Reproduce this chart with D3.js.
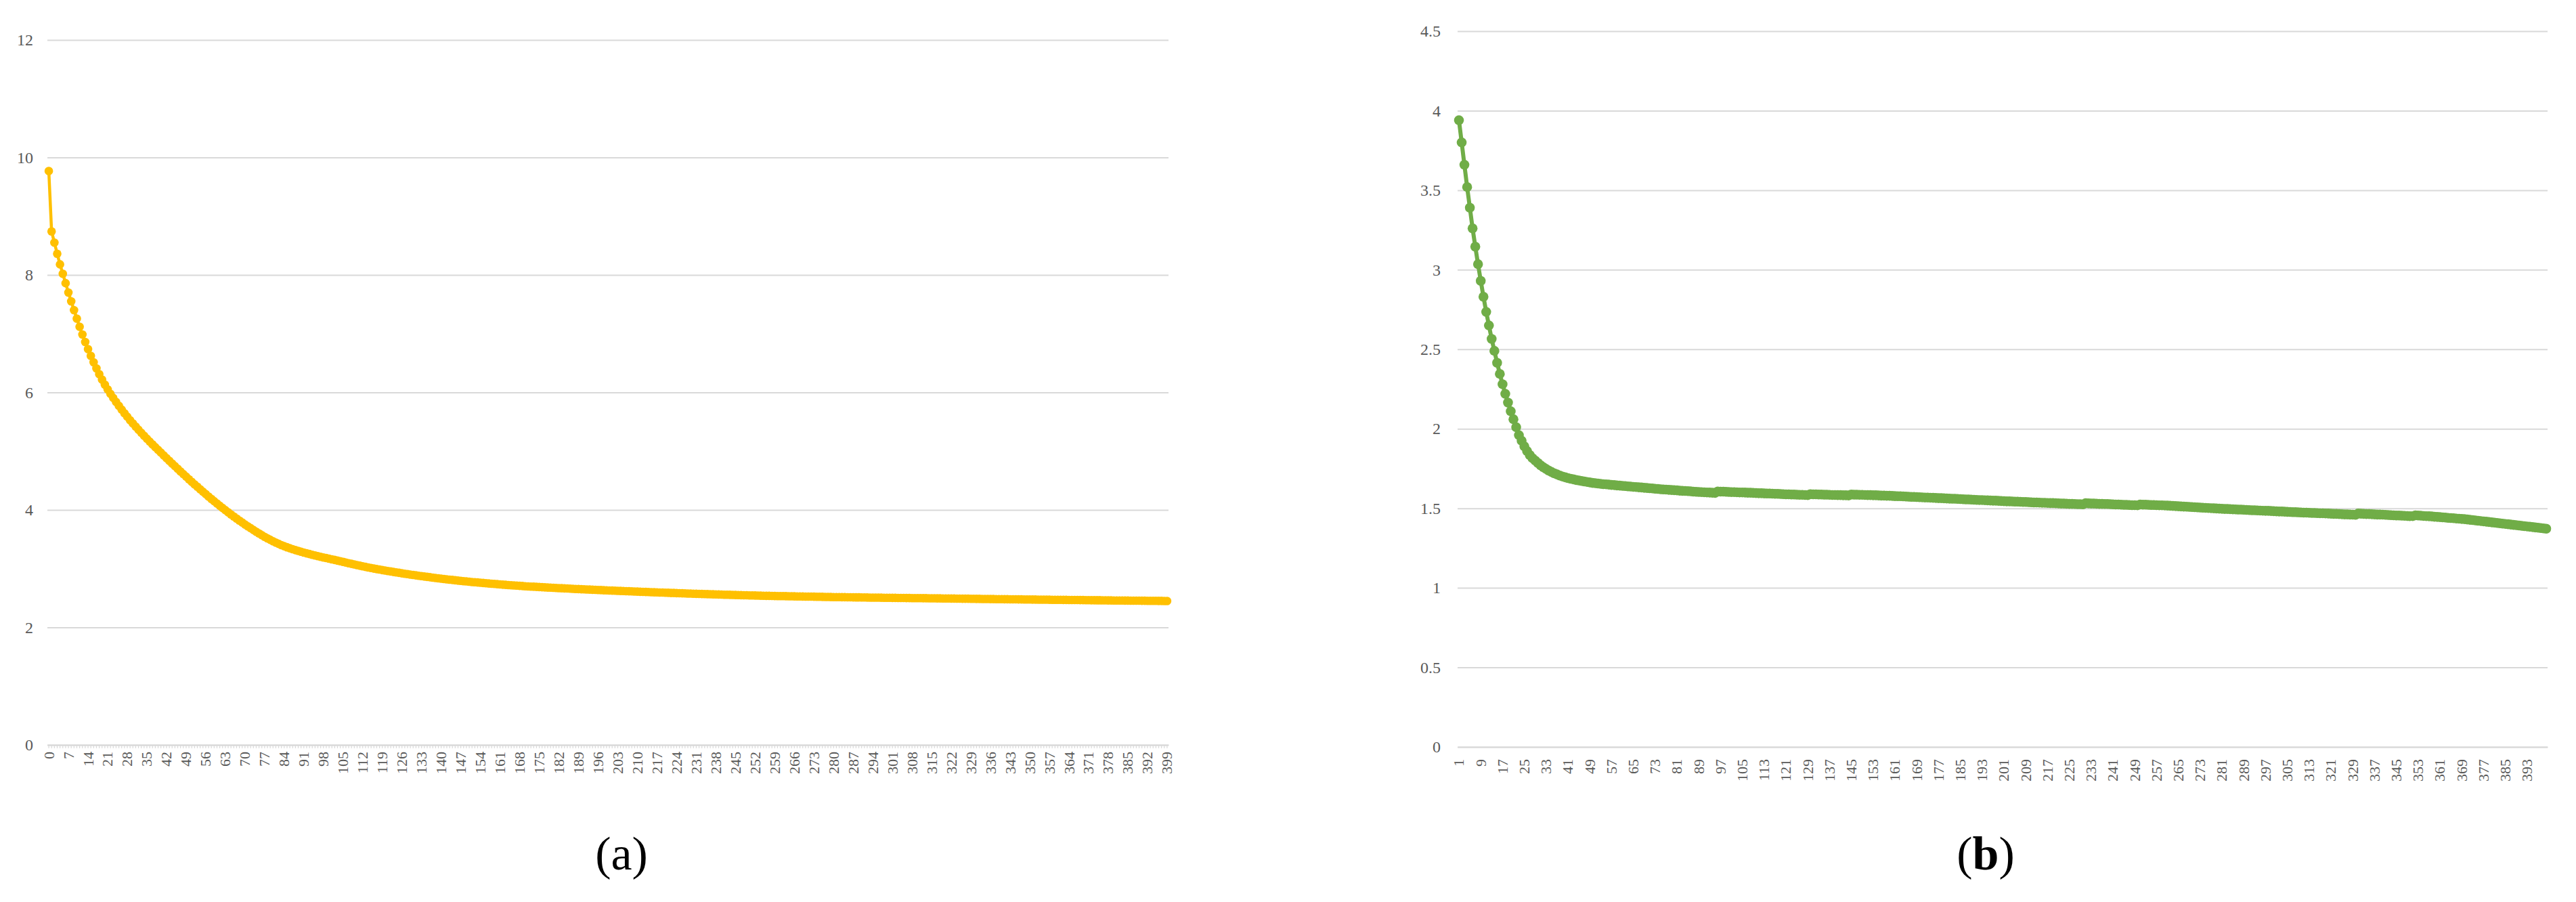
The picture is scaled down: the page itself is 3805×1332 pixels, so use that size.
<!DOCTYPE html>
<html>
<head>
<meta charset="utf-8">
<script src="https://cdn.jsdelivr.net/npm/d3@7"></script>
<style>
  body { margin: 0; background: #fff; }
  svg { display: block; }
</style>
</head>
<body>
<svg width="3805" height="1332"></svg>
<script>
// ---- data ----
const categoriesA = d3.range(0, 400);
const categoriesB = d3.range(1, 401);

const tickLabelsA = [0,7,14,21,28,35,42,49,56,63,70,77,84,91,98,105,112,119,126,133,140,147,154,161,168,175,182,189,196,203,210,217,224,231,238,245,252,259,266,273,280,287,294,301,308,315,322,329,336,343,350,357,364,371,378,385,392,399];
const tickLabelsB = [1,9,17,25,33,41,49,57,65,73,81,89,97,105,113,121,129,137,145,153,161,169,177,185,193,201,209,217,225,233,241,249,257,265,273,281,289,297,305,313,321,329,337,345,353,361,369,377,385,393];

const yTicksA = [0, 2, 4, 6, 8, 10, 12];
const yTicksB = [0, 0.5, 1, 1.5, 2, 2.5, 3, 3.5, 4, 4.5];

const valuesA = [
  9.77, 8.74, 8.55, 8.36, 8.18, 8.02, 7.86, 7.70, 7.55, 7.40,
  7.256, 7.118, 6.986, 6.859, 6.738, 6.623, 6.513, 6.409, 6.311, 6.219,
  6.132, 6.051, 5.976, 5.906, 5.838, 5.772, 5.708, 5.646, 5.586, 5.528,
  5.472, 5.418, 5.365, 5.313, 5.262, 5.212, 5.163, 5.115, 5.068, 5.022,
  4.975, 4.928, 4.882, 4.836, 4.790, 4.745, 4.700, 4.655, 4.610, 4.566,
  4.522, 4.479, 4.436, 4.394, 4.352, 4.310, 4.269, 4.228, 4.188, 4.148,
  4.109, 4.071, 4.033, 3.996, 3.959, 3.923, 3.888, 3.853, 3.819, 3.786,
  3.753, 3.721, 3.690, 3.659, 3.629, 3.599, 3.570, 3.542, 3.516, 3.491,
  3.467, 3.444, 3.422, 3.401, 3.382, 3.364, 3.347, 3.331, 3.316, 3.302,
  3.288, 3.274, 3.261, 3.249, 3.237, 3.225, 3.213, 3.202, 3.191, 3.181,
  3.170, 3.159, 3.148, 3.137, 3.126, 3.115, 3.104, 3.093, 3.082, 3.072,
  3.061, 3.051, 3.040, 3.030, 3.021, 3.011, 3.002, 2.993, 2.985, 2.976,
  2.968, 2.960, 2.952, 2.944, 2.936, 2.929, 2.921, 2.914, 2.907, 2.900,
  2.893, 2.886, 2.879, 2.873, 2.866, 2.860, 2.854, 2.848, 2.842, 2.836,
  2.830, 2.824, 2.819, 2.813, 2.808, 2.803, 2.797, 2.792, 2.787, 2.783,
  2.778, 2.773, 2.769, 2.765, 2.760, 2.756, 2.752, 2.748, 2.744, 2.740,
  2.736, 2.732, 2.728, 2.725, 2.721, 2.718, 2.714, 2.711, 2.708, 2.705,
  2.701, 2.698, 2.695, 2.693, 2.690, 2.687, 2.684, 2.682, 2.679, 2.677,
  2.674, 2.672, 2.669, 2.667, 2.664, 2.662, 2.660, 2.657, 2.655, 2.653,
  2.650, 2.648, 2.646, 2.644, 2.641, 2.639, 2.637, 2.635, 2.633, 2.631,
  2.629, 2.627, 2.625, 2.623, 2.621, 2.619, 2.617, 2.615, 2.613, 2.611,
  2.609, 2.607, 2.605, 2.604, 2.602, 2.600, 2.598, 2.596, 2.594, 2.593,
  2.591, 2.589, 2.587, 2.586, 2.584, 2.582, 2.581, 2.579, 2.577, 2.576,
  2.574, 2.572, 2.571, 2.569, 2.568, 2.566, 2.565, 2.563, 2.562, 2.560,
  2.559, 2.557, 2.556, 2.555, 2.553, 2.552, 2.551, 2.549, 2.548, 2.547,
  2.545, 2.544, 2.543, 2.542, 2.540, 2.539, 2.538, 2.537, 2.536, 2.535,
  2.534, 2.534, 2.533, 2.532, 2.531, 2.530, 2.529, 2.528, 2.527, 2.526,
  2.525, 2.525, 2.524, 2.523, 2.522, 2.521, 2.520, 2.519, 2.518, 2.517,
  2.516, 2.516, 2.515, 2.514, 2.514, 2.513, 2.513, 2.512, 2.511, 2.511,
  2.510, 2.510, 2.509, 2.508, 2.508, 2.507, 2.507, 2.506, 2.505, 2.505,
  2.504, 2.503, 2.503, 2.502, 2.502, 2.501, 2.500, 2.500, 2.499, 2.499,
  2.498, 2.498, 2.497, 2.497, 2.496, 2.495, 2.495, 2.494, 2.494, 2.493,
  2.492, 2.492, 2.491, 2.491, 2.490, 2.490, 2.489, 2.488, 2.488, 2.487,
  2.487, 2.486, 2.486, 2.485, 2.484, 2.484, 2.483, 2.483, 2.482, 2.481,
  2.481, 2.480, 2.480, 2.479, 2.479, 2.478, 2.477, 2.477, 2.476, 2.476,
  2.475, 2.474, 2.474, 2.473, 2.473, 2.472, 2.472, 2.471, 2.470, 2.470,
  2.469, 2.469, 2.468, 2.468, 2.467, 2.467, 2.466, 2.466, 2.465, 2.465,
  2.464, 2.464, 2.463, 2.463, 2.462, 2.462, 2.461, 2.461, 2.460, 2.460,
  2.459, 2.459, 2.458, 2.458, 2.457, 2.457, 2.456, 2.456, 2.455, 2.455,
  2.454, 2.454, 2.453, 2.453, 2.452, 2.452, 2.451, 2.451, 2.450, 2.450
];

const valuesB = [
  3.94, 3.80, 3.66, 3.52, 3.39, 3.26, 3.145, 3.035, 2.93, 2.83,
  2.735, 2.65, 2.565, 2.49, 2.415, 2.345, 2.28, 2.22, 2.165, 2.11,
  2.06, 2.01, 1.96, 1.925, 1.89, 1.86, 1.835, 1.815, 1.80, 1.785,
  1.77, 1.758, 1.747, 1.737, 1.728, 1.72, 1.713, 1.706, 1.70, 1.695,
  1.69, 1.686, 1.682, 1.678, 1.675, 1.672, 1.669, 1.666, 1.663, 1.66,
  1.658, 1.656, 1.654, 1.652, 1.651, 1.649, 1.647, 1.646, 1.644, 1.643,
  1.641, 1.640, 1.638, 1.637, 1.635, 1.634, 1.632, 1.631, 1.629, 1.628,
  1.626, 1.625, 1.623, 1.622, 1.620, 1.619, 1.618, 1.616, 1.615, 1.614,
  1.613, 1.611, 1.610, 1.609, 1.608, 1.607, 1.605, 1.604, 1.603, 1.602,
  1.601, 1.600, 1.599, 1.598, 1.597, 1.606, 1.605, 1.605, 1.604, 1.603,
  1.602, 1.602, 1.601, 1.600, 1.600, 1.599, 1.598, 1.598, 1.597, 1.596,
  1.595, 1.595, 1.594, 1.593, 1.593, 1.592, 1.591, 1.591, 1.590, 1.589,
  1.588, 1.588, 1.587, 1.587, 1.586, 1.585, 1.585, 1.584, 1.583, 1.589,
  1.588, 1.588, 1.587, 1.587, 1.586, 1.586, 1.585, 1.584, 1.584, 1.583,
  1.583, 1.582, 1.582, 1.581, 1.587, 1.586, 1.586, 1.585, 1.585, 1.584,
  1.583, 1.583, 1.582, 1.582, 1.581, 1.580, 1.580, 1.579, 1.579, 1.578,
  1.577, 1.576, 1.576, 1.575, 1.574, 1.573, 1.572, 1.572, 1.571, 1.570,
  1.569, 1.568, 1.568, 1.567, 1.566, 1.565, 1.564, 1.564, 1.563, 1.562,
  1.561, 1.560, 1.560, 1.559, 1.558, 1.557, 1.556, 1.556, 1.555, 1.554,
  1.553, 1.552, 1.552, 1.551, 1.550, 1.549, 1.548, 1.548, 1.547, 1.546,
  1.545, 1.544, 1.544, 1.543, 1.542, 1.542, 1.541, 1.540, 1.540, 1.539,
  1.538, 1.537, 1.537, 1.536, 1.535, 1.535, 1.534, 1.533, 1.533, 1.532,
  1.531, 1.530, 1.530, 1.529, 1.528, 1.528, 1.527, 1.526, 1.526, 1.525,
  1.532, 1.531, 1.530, 1.530, 1.529, 1.528, 1.528, 1.527, 1.527, 1.526,
  1.525, 1.524, 1.524, 1.523, 1.522, 1.522, 1.521, 1.520, 1.520, 1.519,
  1.524, 1.523, 1.523, 1.522, 1.521, 1.521, 1.520, 1.519, 1.519, 1.518,
  1.517, 1.516, 1.515, 1.514, 1.513, 1.512, 1.511, 1.510, 1.509, 1.508,
  1.507, 1.506, 1.505, 1.504, 1.503, 1.502, 1.501, 1.500, 1.499, 1.498,
  1.497, 1.496, 1.496, 1.495, 1.494, 1.493, 1.492, 1.492, 1.491, 1.490,
  1.489, 1.488, 1.488, 1.487, 1.486, 1.485, 1.484, 1.484, 1.483, 1.482,
  1.481, 1.480, 1.480, 1.479, 1.478, 1.477, 1.476, 1.476, 1.475, 1.474,
  1.473, 1.473, 1.472, 1.471, 1.471, 1.470, 1.469, 1.469, 1.468, 1.467,
  1.466, 1.465, 1.465, 1.464, 1.463, 1.462, 1.462, 1.461, 1.460, 1.459,
  1.467, 1.466, 1.465, 1.464, 1.464, 1.463, 1.462, 1.461, 1.461, 1.460,
  1.459, 1.458, 1.457, 1.456, 1.455, 1.455, 1.454, 1.453, 1.452, 1.451,
  1.451, 1.456, 1.455, 1.454, 1.452, 1.451, 1.450, 1.449, 1.447, 1.446,
  1.445, 1.443, 1.442, 1.440, 1.439, 1.438, 1.436, 1.435, 1.433, 1.432,
  1.430, 1.428, 1.426, 1.424, 1.422, 1.420, 1.418, 1.416, 1.414, 1.412,
  1.410, 1.408, 1.406, 1.404, 1.402, 1.400, 1.398, 1.396, 1.394, 1.392,
  1.390, 1.388, 1.386, 1.384, 1.382, 1.380, 1.378, 1.376, 1.374, 1.372
];

// ---- drawing ----
const serif = '"Liberation Serif", "Times New Roman", serif';
const gridColor = '#d9d9d9',
      labelColor = '#595959';

const svg = d3.select('svg');

const drawChart = (o) => {
  let x = d3.scaleBand()
      .domain(o.categories)
      .range([o.left, o.right]);

  let y = d3.scaleLinear()
      .domain([0, o.yMax])
      .range([o.bottom, o.top]);

  let g = svg.append('g');

  // gridlines and y labels
  g.append('g')
      .attr('transform', `translate(${o.left},0)`)
      .call(d3.axisLeft(y)
        .tickValues(o.yTicks)
        .tickSize(-(o.right - o.left))
        .tickPadding(o.yPad)
        .tickFormat(d => d))
      .attr('font-family', serif)
      .call(s => s.select('.domain').remove())
      .call(s => s.selectAll('.tick line').attr('stroke', gridColor).attr('stroke-width', 2))
      .call(s => s.selectAll('.tick text').attr('fill', labelColor).style('font-size', '24px'));

  // category tick marks (left chart only)
  if (o.minorTicks) {
    g.append('g')
        .attr('transform', `translate(0,${o.bottom})`)
        .call(d3.axisBottom(x).tickValues(o.categories).tickFormat('').tickSizeInner(5).tickSizeOuter(0))
        .call(s => s.select('.domain').remove())
        .call(s => s.selectAll('.tick line').attr('stroke', gridColor).attr('stroke-width', 1.2));
  }

  // x labels, rotated
  g.append('g')
      .attr('transform', `translate(0,${o.bottom})`)
      .call(d3.axisBottom(x).tickValues(o.xLabels).tickSize(0).tickSizeOuter(0))
      .attr('font-family', serif)
      .call(s => s.select('.domain').attr('stroke', gridColor).attr('stroke-width', 2))
      .call(s => s.selectAll('.tick text')
        .attr('fill', labelColor)
        .style('font-size', '22px')
        .style('text-anchor', 'end')
        .attr('transform', 'rotate(-90)')
        .attr('x', -o.xGap)
        .attr('y', 0)
        .attr('dy', '0.34em'));

  let pts = o.values.map((v, i) => ({c: o.categories[i], v: v}));
  let cx = d => x(d.c) + x.bandwidth() / 2;

  g.append('path')
      .datum(pts)
      .attr('fill', 'none')
      .attr('stroke', o.color)
      .attr('stroke-width', o.lineWidth)
      .attr('stroke-linejoin', 'round')
      .attr('d', d3.line().x(cx).y(d => y(d.v)));

  g.append('g')
    .selectAll('circle')
    .data(pts)
    .enter().append('circle')
      .attr('cx', cx)
      .attr('cy', d => y(d.v))
      .attr('r', o.radius)
      .attr('fill', o.color);

  // caption
  let cap = svg.append('text')
      .attr('x', o.capX)
      .attr('y', 1284)
      .attr('text-anchor', 'middle')
      .attr('font-family', serif)
      .attr('font-size', 70)
      .attr('fill', '#000');
  cap.append('tspan').text('(');
  cap.append('tspan').attr('font-weight', o.capBold ? 'bold' : 'normal').text(o.capLetter);
  cap.append('tspan').text(')');
};

drawChart({
  categories: categoriesA, values: valuesA, xLabels: tickLabelsA, yTicks: yTicksA, yMax: 12,
  left: 70, right: 1726, top: 59, bottom: 1100, yPad: 21, xGap: 10, minorTicks: true,
  color: '#ffc000', lineWidth: 4.5, radius: 6.3,
  capX: 918, capLetter: 'a', capBold: false
});

drawChart({
  categories: categoriesB, values: valuesB, xLabels: tickLabelsB, yTicks: yTicksB, yMax: 4.5,
  left: 2153, right: 3763, top: 46, bottom: 1103, yPad: 25, xGap: 18, minorTicks: false,
  color: '#70ad47', lineWidth: 6, radius: 7.3,
  capX: 2933, capLetter: 'b', capBold: true
});
</script>
</body>
</html>
